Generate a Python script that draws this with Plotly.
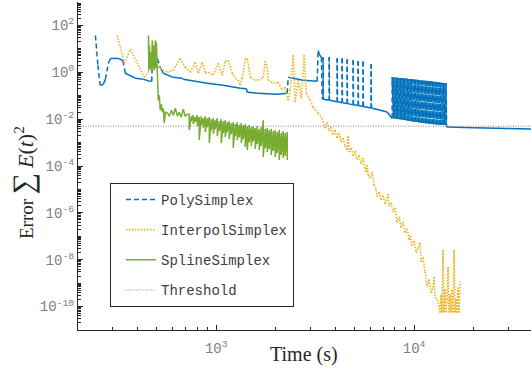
import math
import plotly.graph_objects as go

# ---------------- data ----------------
# PolySimplex: main path
poly_t = [245, 252, 259, 268, 275, 285, 292, 320, 337, 347, 390, 428, 464, 472,
          475, 504, 521, 540, 606, 675, 681, 901, 1085, 1321, 1420, 1434, 1611, 2032,
          2284, 2311, 2750, 3236, 3273, 3330, 3400, 3430]
poly_e = [37, 2.0, 0.28, 0.30, 0.5, 2.5, 3.9, 3.9, 3.2, 0.91, 0.56, 0.50, 0.41, 0.41,
          3.9, 3.9, 1.6, 0.91, 0.61, 0.55, 0.50, 0.34, 0.28, 0.21, 0.20, 0.14, 0.128, 0.116,
          0.128, 0.61, 0.46, 0.41, 8.6, 5.5, 4.35, 0.075]
# PolySimplex: restart spikes
poly_spike_t = [3467, 3722, 4084, 4327, 4588, 4920, 5215, 5523, 6063]
poly_spike_t_down = [3480, 3737, 4100, 4344, 4606, 4940, 5236, 5545, 6087]
poly_spike_top = [4.35, 4.35, 4.0, 3.9, 3.6, 3.3, 3.0, 2.9, 2.2]
poly_spike_base = [0.071, 0.064, 0.055, 0.050, 0.046, 0.041, 0.038, 0.035, 0.030]
poly_mid_t = [7305]
poly_mid_e = [0.020]
# PolySimplex: dense oscillation block
poly_block_t = [7745, 7870, 7998, 8128, 8260, 8395, 8531, 8670, 8810, 8954,
                9099, 9247, 9397, 9550, 9705, 9863, 10023, 10186, 10351, 10520,
                10691, 10864, 11041, 11220, 11402, 11588, 11776, 11967, 12162, 12359,
                12560, 12764, 12972, 13183, 13397, 13614, 13836, 14060, 14289, 14521]
poly_block_top = [0.61, 0.60, 0.60, 0.59, 0.58, 0.57, 0.57, 0.56, 0.55, 0.54,
                  0.54, 0.53, 0.52, 0.51, 0.51, 0.50, 0.49, 0.48, 0.48, 0.47,
                  0.46, 0.45, 0.45, 0.44, 0.43, 0.43, 0.42, 0.41, 0.41, 0.40,
                  0.39, 0.39, 0.38, 0.38, 0.37, 0.36, 0.36, 0.35, 0.35, 0.34]
poly_block_bot = [0.0110, 0.0108, 0.0106, 0.0104, 0.0102, 0.0100, 0.0098, 0.0096, 0.0094, 0.0092,
                  0.0090, 0.0088, 0.0086, 0.0084, 0.0082, 0.0080, 0.0078, 0.0077, 0.0075, 0.0074,
                  0.0072, 0.0071, 0.0069, 0.0068, 0.0067, 0.0066, 0.0065, 0.0064, 0.0063, 0.0062,
                  0.0061, 0.0060, 0.0059, 0.0059, 0.0058, 0.0058, 0.0057, 0.0057, 0.0056, 0.0056]
poly_tail_t = [14600, 20000, 30000, 39000]
poly_tail_e = [0.0046, 0.0043, 0.0040, 0.0038]

# InterpolSimplex
interp_t = [316, 343, 368, 433, 453, 475, 521, 566, 606, 658, 697, 739, 783, 811, 850, 880,
            911, 966, 1024, 1072, 1110, 1150, 1205, 1248, 1292, 1321, 1353, 1401, 1434, 1486,
            1574, 1630, 1727, 1767, 1811, 1832, 1941, 2056, 2153, 2228, 2311, 2366, 2450,
            2507, 2596, 2689, 2782, 2850, 2985, 3092, 3273, 3428,
            3551, 3636, 3722, 3809, 3898, 3990, 4084, 4180, 4278, 4378,
            4481, 4587, 4641, 4695, 4805, 4918, 5035, 5153, 5274, 5398,
            5525, 5655, 5722, 5789, 5857, 5995, 6136, 6280, 6428, 6503,
            6656, 6813, 6972, 7136, 7304, 7390, 7475, 7652, 7832, 8016,
            8204, 8397, 8595, 8797, 9004, 9216, 9434, 9545, 9770, 10000,
            10235, 10476, 10722, 10849, 11104, 11365, 11633, 11907, 12187, 12474,
            12618, 12767, 13068, 13375, 13530, 13689, 13849, 14011, 14174, 14339,
            14506, 14676, 14846, 15020, 15195, 15372, 15551, 15740, 15920, 16110,
            16300, 16490, 16680, 16880, 17070]
interp_e = [37.5, 2.42, 9.5, 0.61, 1.0, 2.19, 1.48, 1.0, 1.22, 3.94, 1.63, 1.0, 2.66, 0.91,
            2.66, 0.91, 1.0, 0.75, 2.42, 0.75, 2.94, 3.24, 0.91, 0.555, 0.457, 0.28, 0.555,
            3.57, 3.94, 0.61, 0.457, 0.457, 0.61, 2.94, 1.63, 0.457, 0.34, 0.375, 0.171, 0.23,
            0.064, 0.171, 5.3, 0.053, 0.457, 0.078, 5.3, 0.128, 0.064, 0.032, 0.018, 0.011,
            4.14e-3, 7.45e-3, 3.08e-3, 4.57e-3, 2.09e-3, 3.40e-3, 1.55e-3, 2.54e-3, 1.05e-3, 1.55e-3,
            7.10e-4, 4.80e-4, 1.89e-3, 3.94e-4, 5.83e-4, 2.67e-4, 4.35e-4, 1.80e-4, 2.94e-4, 1.22e-4,
            2.19e-4, 8.22e-5, 5.56e-5, 1.10e-4, 4.14e-5, 3.08e-5, 5.56e-5, 1.55e-5, 9.52e-6, 4.80e-6,
            7.83e-6, 3.57e-6, 5.29e-6, 2.42e-6, 4.35e-6, 6.44e-6, 1.99e-6, 2.67e-6, 1.10e-6, 1.63e-6,
            3.75e-7, 6.76e-7, 2.30e-7, 4.14e-7, 1.41e-7, 2.09e-7, 7.10e-8, 1.05e-7, 3.94e-8, 6.44e-8,
            1.99e-8, 3.24e-8, 5.29e-8, 8.22e-9, 1.22e-8, 3.08e-9, 7.10e-10, 1.41e-9, 3.94e-10, 6.44e-10,
            1.89e-9, 2.42e-10, 1.99e-10, 1.10e-10, 5.56e-11, 3.24e-10, 5.56e-11, 2.67e-8, 5.56e-11, 5.29e-10,
            5.56e-11, 1.99e-10, 5.04e-9, 5.56e-11, 3.24e-10, 5.56e-11, 5.29e-10, 5.56e-11, 2.67e-8, 5.56e-11,
            1.99e-10, 5.56e-11, 6.44e-10, 5.56e-11, 1.16e-9]

# SplineSimplex: start
spline_t = [454, 456, 459, 464, 467, 470, 475, 478, 481, 486, 492, 495, 498, 504, 507, 509,
            515, 521, 528, 534, 540, 546, 553, 566, 579, 593, 607, 621, 636, 650, 666, 681,
            697, 714]
spline_e = [37.5, 1.22, 14.1, 1.48, 7.1, 1.22, 23, 1.48, 14.1, 1.22, 23, 1.48, 18.9, 1.22,
            0.171, 0.064, 0.105, 0.024, 0.043, 0.0198, 0.029, 0.0067, 0.0198, 0.018, 0.0134,
            0.024, 0.0147, 0.029, 0.0134, 0.0198, 0.0122, 0.0267, 0.0134, 0.0163]
# SplineSimplex: noisy band
spline_band_t = [730, 748, 765, 783, 802, 820, 840, 859, 880, 900, 922, 943, 966, 988, 1012,
                 1036, 1060, 1085, 1110, 1137, 1163, 1191, 1219, 1247, 1277, 1307, 1338, 1369,
                 1401, 1434, 1468, 1503, 1538, 1574, 1611, 1649, 1688, 1728, 1768, 1810, 1852,
                 1896, 1941, 1986, 2033, 2081, 2130, 2180, 2231, 2284]
spline_band_hi = [0.0163, 0.0134, 0.0148, 0.0122, 0.0148, 0.0122, 0.0134, 0.0110, 0.0134, 0.0110,
                  0.0122, 0.0100, 0.0110, 0.00906, 0.0110, 0.00822, 0.0100, 0.00822, 0.00906, 0.00745,
                  0.00822, 0.00676, 0.00745, 0.00613, 0.00745, 0.00556, 0.00676, 0.00556, 0.00613, 0.00504,
                  0.00556, 0.00457, 0.00504, 0.00414, 0.00504, 0.00375, 0.00457, 0.00906, 0.00375, 0.00414,
                  0.00340, 0.00375, 0.00308, 0.00340, 0.00280, 0.00340, 0.00254, 0.00308, 0.00254, 0.00280]
spline_band_lo = [0.00340, 0.00822, 0.00613, 0.00745, 0.00504, 0.00128, 0.00556, 0.00414, 0.00280, 0.00457,
                  0.000953, 0.00340, 0.00230, 0.00375, 0.00189, 0.00308, 0.000953, 0.00254, 0.00171, 0.00280,
                  0.00141, 0.00230, 0.000583, 0.00189, 0.00128, 0.00171, 0.000953, 0.00141, 0.000644, 0.000480,
                  0.00105, 0.000710, 0.00116, 0.000529, 0.000864, 0.000480, 0.000710, 0.000242, 0.000583, 0.000394,
                  0.000529, 0.000294, 0.000435, 0.000242, 0.000357, 0.000180, 0.000294, 0.000219, 0.000267, 0.000180]

# Threshold
threshold_t = [200, 39000]
threshold_e = [0.005, 0.005]

# axis ticks
y_major = [1e-10, 1e-8, 1e-6, 1e-4, 1e-2, 1e0, 1e2]
y_labels = ["10<sup>-10</sup>", "10<sup>-8</sup>", "10<sup>-6</sup>", "10<sup>-4</sup>",
            "10<sup>-2</sup>", "10<sup>0</sup>", "10<sup>2</sup>"]
x_major = [1e3, 1e4]
x_labels = ["10<sup>3</sup>", "10<sup>4</sup>"]

# ---------------- assemble series ----------------
px, py = list(poly_t), list(poly_e)
for tu, td, top, base in zip(poly_spike_t, poly_spike_t_down, poly_spike_top, poly_spike_base):
    px += [tu, tu, td]
    py += [base, top, base]
px += poly_mid_t
py += poly_mid_e
for t, top, bot in zip(poly_block_t, poly_block_top, poly_block_bot):
    px += [t, t]
    py += [bot, top]
px += poly_tail_t
py += poly_tail_e

sx, sy = list(spline_t), list(spline_e)
for t, hi, lo in zip(spline_band_t, spline_band_hi, spline_band_lo):
    sx += [t, t]
    sy += [hi, lo]


def segments(xs, ys):
    """each segment as its own sub-path so the dash pattern restarts per segment"""
    ox, oy = [], []
    for i in range(len(xs) - 1):
        ox += [xs[i], xs[i + 1], None]
        oy += [ys[i], ys[i + 1], None]
    return ox, oy


def split_steep(xs, ys, steep=0.3):
    """split into gentle (solid-looking) and steep (dashed) segments"""
    gx, gy, jx, jy = [], [], [], []
    for i in range(len(xs) - 1):
        d = abs(math.log10(ys[i + 1]) - math.log10(ys[i]))
        tx, ty = (jx, jy) if d > steep else (gx, gy)
        tx += [xs[i], xs[i + 1], None]
        ty += [ys[i], ys[i + 1], None]
    return gx, gy, jx, jy


BLUE, YELLOW, GREEN = "#0072BD", "#EDB120", "#77AC30"

gx, gy, jx, jy = split_steep(px, py)
ix, iy = segments(interp_t, interp_e)

fig = go.Figure()
fig.add_trace(go.Scatter(x=gx, y=gy, mode="lines", showlegend=False, legendgroup="a",
                         line=dict(color=BLUE, width=1.5), connectgaps=False, hoverinfo="skip"))
fig.add_trace(go.Scatter(x=jx, y=jy, mode="lines", name="PolySimplex", legendgroup="a",
                         line=dict(color=BLUE, width=1.5, dash="5px,3px"), connectgaps=False))
fig.add_trace(go.Scatter(x=ix, y=iy, mode="lines", name="InterpolSimplex", legendgroup="b",
                         line=dict(color=YELLOW, width=1.6, dash="1.5px,1.5px"), connectgaps=False))
fig.add_trace(go.Scatter(x=sx, y=sy, mode="lines", name="SplineSimplex", legendgroup="c",
                         line=dict(color=GREEN, width=1.5)))
fig.add_trace(go.Scatter(x=threshold_t, y=threshold_e, mode="lines", name="Threshold", legendgroup="d",
                         line=dict(color="#8c8c8c", width=1, dash="1px,1.5px")))

# minor ticks
x_minor = [m * 10 ** e for e in (2, 3, 4) for m in range(2, 10) if 200 <= m * 10 ** e <= 39000]
y_minor = [m * 10.0 ** e for e in range(-11, 3) for m in range(1, 10)
           if not (m == 1 and 10.0 ** e in y_major)]

MONO = "Liberation Mono, Courier New, monospace"
SERIF = "Liberation Serif, Times New Roman, serif"
tickfont = dict(family=MONO, size=14, color="#7f7f7f")
AX = "#262626"

fig.update_layout(
    width=531, height=368,
    margin=dict(l=78, r=0, t=1.5, b=37.5),
    paper_bgcolor="white", plot_bgcolor="white",
    showlegend=True,
    legend=dict(x=0.0706, y=0.4487, xanchor="left", yanchor="top",
                bgcolor="white", bordercolor=AX, borderwidth=1,
                font=dict(family=MONO, size=14, color="#404040"),
                tracegroupgap=9, traceorder="grouped", indentation=10),
    annotations=[
        dict(text="Time (s)", xref="paper", yref="paper", x=0.498, y=-0.075,
             xanchor="center", yanchor="middle", showarrow=False,
             font=dict(family=SERIF, size=20, color=AX)),
        dict(text="Error <span style='font-size:30px'>∑</span> "
                  "<span style='font-size:22px'><i>E</i>(<i>t</i>)<sup>2</sup></span>",
             xref="paper", yref="paper", x=-0.12, y=0.45, textangle=-90,
             xanchor="center", yanchor="middle", showarrow=False,
             font=dict(family=SERIF, size=19, color=AX)),
    ],
)
fig.update_xaxes(type="log", range=[2.30103, 4.591], automargin=False,
                 tickvals=x_major, ticktext=x_labels, ticks="inside", ticklen=5, tickcolor=AX,
                 tickfont=tickfont, showgrid=False, zeroline=False, ticklabelstandoff=5,
                 showline=True, linecolor=AX, linewidth=1, mirror=False,
                 minor=dict(tickvals=x_minor, ticks="inside", ticklen=3, tickcolor=AX, showgrid=False))
fig.update_yaxes(type="log", range=[-11, 3], automargin=False,
                 tickvals=y_major, ticktext=y_labels, ticks="inside", ticklen=5, tickcolor=AX,
                 tickfont=tickfont, showgrid=False, zeroline=False,
                 showline=True, linecolor=AX, linewidth=1, mirror=False,
                 minor=dict(tickvals=y_minor, ticks="inside", ticklen=3, tickcolor=AX, showgrid=False))

fig.write_html("out.html", config={"displayModeBar": False},
               post_script="document.body.style.margin='0';")
